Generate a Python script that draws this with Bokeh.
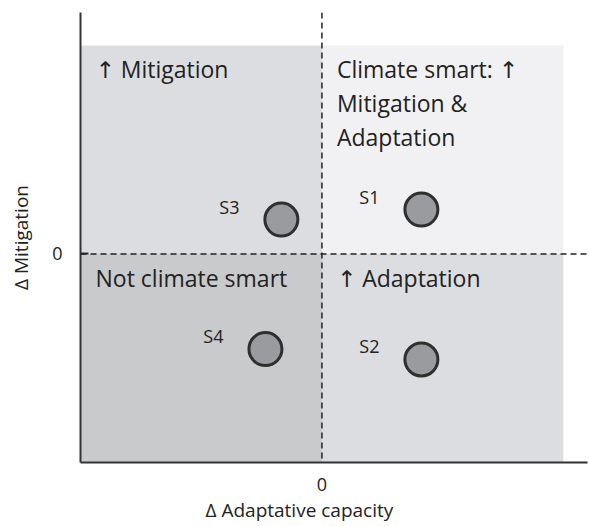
from bokeh.plotting import figure
from bokeh.models import Range1d, FixedTicker, Span, Title, ColumnDataSource
from bokeh.core.properties import value
from bokeh.embed import file_html
from bokeh.resources import INLINE

# Quadrant bounds (data units) and shading
quad_left = [-1.0, 0.0, -1.0, 0.0]
quad_right = [0.0, 1.0, 0.0, 1.0]
quad_bottom = [0.0, 0.0, -1.0, -1.0]
quad_top = [1.0, 1.0, 0.0, 0.0]
quad_colors = ["#dcdde0", "#f1f1f3", "#c9cacc", "#dcdde0"]
quad_labels = ["\u2191 Mitigation", "Climate smart: \u2191\nMitigation &\nAdaptation",
               "Not climate smart", "\u2191 Adaptation"]

# Scenario points
scen_names = ["S1", "S2", "S3", "S4"]
scen_adapt = [0.412, 0.412, -0.168, -0.234]
scen_mitig = [0.213, -0.506, 0.165, -0.456]

FONT = "Open Sans"
QFONT = "'Open Sans', 'DejaVu Sans'"

p = figure(width=589, height=526, output_backend="svg", toolbar_location=None,
           x_range=Range1d(-1.0, 1.1), y_range=Range1d(-1.0, 1.158),
           min_border_left=80, min_border_right=2, min_border_top=12, min_border_bottom=64)
p.outline_line_color = None
p.xgrid.visible = False
p.ygrid.visible = False
p.background_fill_color = "white"

qsrc = ColumnDataSource(dict(left=quad_left, right=quad_right, bottom=quad_bottom,
                             top=quad_top, color=quad_colors, label=quad_labels))
p.quad(left="left", right="right", bottom="bottom", top="top", fill_color="color",
       line_color=None, source=qsrc)

p.add_layout(Span(location=0, dimension="height", line_color="#222222",
                  line_width=1.5, line_dash="6 4"))
p.add_layout(Span(location=0, dimension="width", line_color="#222222",
                  line_width=1.5, line_dash="6 4"))

p.text(x="left", y="top", text="label", source=qsrc, x_offset=15, y_offset=8,
       text_font=value(QFONT), text_font_size="23px", text_color="#222222",
       text_align="left", text_baseline="top", text_line_height=1.05)

ssrc = ColumnDataSource(dict(x=scen_adapt, y=scen_mitig, name=scen_names))
p.scatter(x="x", y="y", source=ssrc, size=33, fill_color="#9a9b9e",
          line_color="#2f2f2f", line_width=3)
p.text(x="x", y="y", text="name", source=ssrc, x_offset=-52, y_offset=-13,
       text_font=value(FONT), text_font_size="18px", text_color="#222222",
       text_align="center", text_baseline="middle")

for ax in (p.xaxis[0], p.yaxis[0]):
    ax.ticker = FixedTicker(ticks=[0])
    ax.axis_line_color = "#333333"
    ax.axis_line_width = 2
    ax.minor_tick_line_color = None
    ax.major_label_text_font = FONT
    ax.major_label_text_font_size = "18px"
    ax.major_label_text_color = "#222222"
    ax.axis_label_text_font = FONT
    ax.axis_label_text_font_size = "19px"
    ax.axis_label_text_font_style = "normal"
    ax.axis_label_text_color = "#222222"

p.xaxis.major_tick_in = 0
p.xaxis.major_tick_out = 0
p.xaxis.major_label_standoff = 15
p.yaxis.major_tick_in = 8
p.yaxis.major_tick_out = 0
p.yaxis.major_tick_line_color = "#333333"
p.yaxis.major_tick_line_width = 2
p.yaxis.major_label_standoff = 18
p.yaxis.axis_label = "\u0394 Mitigation"
p.yaxis.axis_label_standoff = 15

xtitle = Title(text="\u0394 Adaptative capacity", align="left", offset=125,
               text_font=FONT, text_font_size="19px", text_font_style="normal",
               text_color="#222222", standoff=2)
p.add_layout(xtitle, "below")

open("out.html", "w").write(file_html(p, INLINE))
